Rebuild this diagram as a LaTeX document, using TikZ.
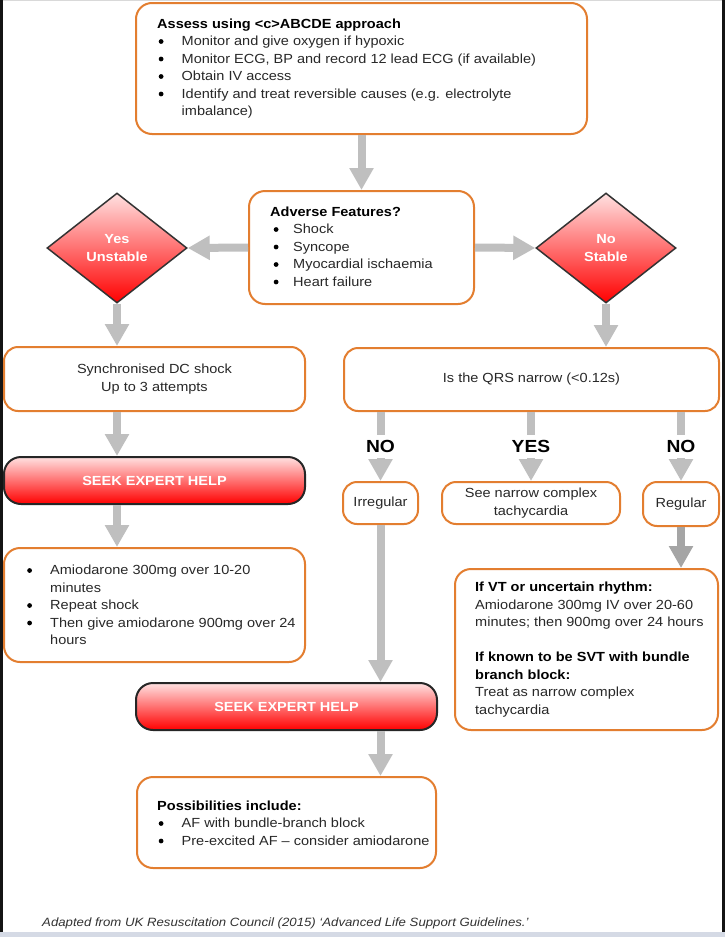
\documentclass[tikz,border=0pt]{standalone}
\usepackage{fontspec}
\setmainfont{Liberation Sans}[FakeStretch=1.1]
\usetikzlibrary{shapes.geometric,arrows.meta,calc}
\definecolor{obord}{RGB}{227,126,48}
\definecolor{garr}{RGB}{191,191,191}
\definecolor{garrd}{RGB}{165,165,165}
\definecolor{txt}{RGB}{40,40,40}
\definecolor{pinktop}{RGB}{255,225,225}
\definecolor{capc}{RGB}{50,50,50}
\definecolor{stripc}{RGB}{213,218,229}
\newcommand{\myfs}{\fontsize{13.2}{17.5}\selectfont}
\newcommand{\blt}[2]{\makebox[#1][l]{\hspace{#2}\tikz[x=1pt,y=1pt,baseline=0pt]{\fill[black] (2.4,4.2) circle (2.4);}}}
\newcommand{\hd}[1]{\textcolor{black}{\bfseries #1}}
\begin{document}
\begin{tikzpicture}[x=1pt,y=-1pt,
  box/.style={draw=obord, line width=2pt, rounded corners=16pt, fill=white, inner sep=0pt},
  sbox/.style={box, rounded corners=14pt, align=center, text=txt, font=\myfs},
  redbox/.style={draw=black!85, line width=2pt, rounded corners=17pt, top color=pinktop, bottom color=red, inner sep=0pt, text=white, font=\myfs\bfseries},
  dia/.style={diamond, draw=black!80, line width=1.5pt, top color=pinktop, bottom color=red, inner sep=0pt, minimum width=140pt, minimum height=110pt, text=white, font=\myfs\bfseries, align=center},
  txtblk/.style={anchor=north west, inner sep=0pt, align=left, text=txt, font=\myfs},
  garrow/.style={draw=garr, line width=8pt, -{Triangle[length=22pt,width=23pt]}},
  lbl/.style={fill=white, font=\fontsize{17.5}{20}\selectfont\bfseries, text=black, inner xsep=2pt, inner ysep=5pt}
]
\useasboundingbox (0,0) rectangle (725,937);
\fill[white] (0,0) rectangle (725,937);
% frame
\fill[black!92] (0,0) rectangle (3,932);
\fill[black!92] (722,0) rectangle (725,932);
\fill[stripc] (0,932) rectangle (725,937);
\fill[black!15] (3,0) rectangle (722,1);

% boxes
\node[box, minimum width=451pt, minimum height=131pt] (top) at (361.5,68.5) {};
\node[box, minimum width=225pt, minimum height=113pt] (adv) at (361.5,247.5) {};
\node[dia] (dL) at (117,248) {Yes\\Unstable};
\node[dia] (dR) at (606,248) {No\\Stable};
\node[sbox, minimum width=301pt, minimum height=64pt] (sync) at (154.5,379) {Synchronised DC shock\\Up to 3 attempts};
\node[redbox, minimum width=301pt, minimum height=47pt] (seekA) at (154.5,480.5) {SEEK EXPERT HELP};
\node[box, minimum width=301pt, minimum height=114pt] (amio) at (154.5,605) {};
\node[sbox, minimum width=375pt, minimum height=63pt] (qrs) at (531.5,379.5) {Is the QRS narrow (<0.12s)};
\node[sbox, minimum width=75pt, minimum height=42pt] (irr) at (380.5,503) {Irregular};
\node[sbox, minimum width=178pt, minimum height=42pt] (snc) at (531,503) {See narrow complex\\tachycardia};
\node[sbox, minimum width=76pt, minimum height=44pt] (reg) at (681,504) {Regular};
\node[box, minimum width=263pt, minimum height=161pt] (vt) at (586.5,649.5) {};
\node[redbox, minimum width=301pt, minimum height=47pt] (seekB) at (286.5,706.5) {SEEK EXPERT HELP};
\node[box, minimum width=299pt, minimum height=91pt] (poss) at (286.5,822.5) {};

% texts
\node[txtblk] (toptext) at (157,16) {\rule{0pt}{12pt}\hd{Assess using <c>ABCDE approach}\\
\blt{24.5pt}{1.5pt}Monitor and give oxygen if hypoxic\\
\blt{24.5pt}{1.5pt}Monitor ECG, BP and record 12 lead ECG (if available)\\
\blt{24.5pt}{1.5pt}Obtain IV access\\
\blt{24.5pt}{1.5pt}Identify and treat reversible causes (e.g. electrolyte\\
\makebox[24.5pt]{}imbalance)};
\node[txtblk] (advtext) at (270,204) {\rule{0pt}{12pt}\hd{Adverse Features?}\\
\blt{23pt}{3.5pt}Shock\\
\blt{23pt}{3.5pt}Syncope\\
\blt{23pt}{3.5pt}Myocardial ischaemia\\
\blt{23pt}{3.5pt}Heart failure};
\node[txtblk] (amiotext) at (26.5,562.5) {\rule{0pt}{12pt}\blt{23.5pt}{0.5pt}Amiodarone 300mg over 10-20\\
\makebox[23.5pt]{}minutes\\
\blt{23.5pt}{0.5pt}Repeat shock\\
\blt{23.5pt}{0.5pt}Then give amiodarone 900mg over 24\\
\makebox[23.5pt]{}hours};
\node[txtblk] (vttext) at (475,579.5) {\rule{0pt}{12pt}\hd{If VT or uncertain rhythm:}\\
Amiodarone 300mg IV over 20-60\\
minutes; then 900mg over 24 hours\\[17.5pt]
\hd{If known to be SVT with bundle}\\
\hd{branch block:}\\
Treat as narrow complex\\
tachycardia};
\node[txtblk] (posstext) at (157,798) {\rule{0pt}{12pt}\hd{Possibilities include:}\\
\blt{24.5pt}{1.5pt}AF with bundle-branch block\\
\blt{24.5pt}{1.5pt}Pre-excited AF – consider amiodarone};

% caption
\node[anchor=base west, inner sep=0pt, text=capc, font=\fontsize{12}{14}\selectfont\itshape] (cap) at (42,926)
  {Adapted from UK Resuscitation Council (2015) ‘Advanced Life Support Guidelines.’};

% connectors
\draw[garrow] (top.south) -- (adv.north);
\draw[garrow] (adv.west) -- (dL.east);
\draw[garrow] (adv.east) -- (dR.west);
\draw[garrow] (dL.south) -- (dL.south |- sync.north);
\draw[garrow] (dL.south |- sync.south) -- (dL.south |- seekA.north);
\draw[garrow] (dL.south |- seekA.south) -- (dL.south |- amio.north);
\draw[garrow] (dR.south) -- (dR.south |- qrs.north);
\draw[garrow] (irr.north |- qrs.south) -- node[lbl]{NO} (irr.north);
\draw[garrow] (snc.north |- qrs.south) -- node[lbl]{YES} (snc.north);
\draw[garrow] (reg.north |- qrs.south) -- node[lbl]{NO} (reg.north);
\draw[garrow, draw=garrd] (reg.south) -- (reg.south |- vt.north);
\draw[garrow] (irr.south) -- (irr.south |- seekB.north);
\draw[garrow] (irr.south |- seekB.south) -- (irr.south |- poss.north);
\end{tikzpicture}
\end{document}
